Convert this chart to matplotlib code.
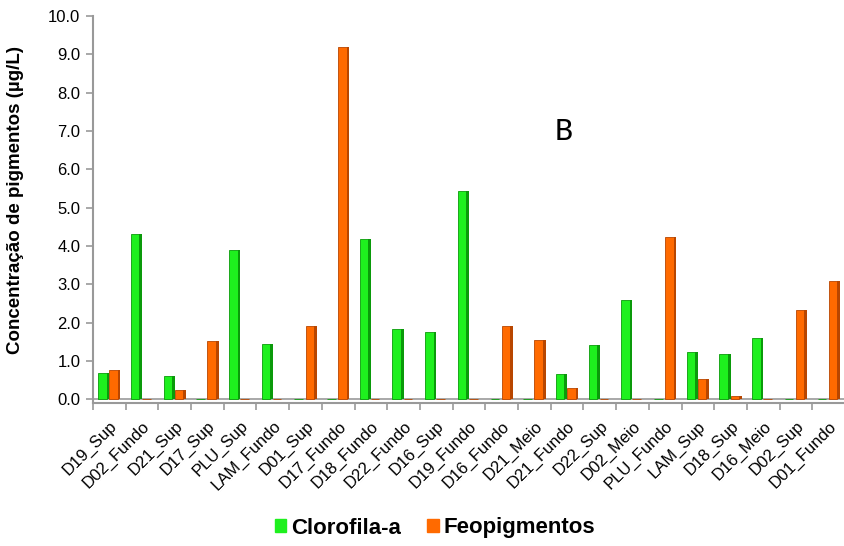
import matplotlib
matplotlib.use('Agg')
import matplotlib.pyplot as plt
import numpy as np

plt.rcParams['font.family'] = ['Liberation Sans', 'DejaVu Sans']

stations = ['D19_Sup', 'D02_Fundo', 'D21_Sup', 'D17_Sup', 'PLU_Sup', 'LAM_Fundo',
            'D01_Sup', 'D17_Fundo', 'D18_Fundo', 'D22_Fundo', 'D16_Sup', 'D19_Fundo',
            'D16_Fundo', 'D21_Meio', 'D21_Fundo', 'D22_Sup', 'D02_Meio', 'PLU_Fundo',
            'LAM_Sup', 'D18_Sup', 'D16_Meio', 'D02_Sup', 'D01_Fundo']
clorofila = [0.68, 4.30, 0.60, 0.00, 3.90, 1.45, 0.00, 0.00, 4.18, 1.83, 1.75, 5.42,
             0.00, 0.00, 0.65, 1.42, 2.60, 0.00, 1.22, 1.17, 1.60, 0.00, 0.00]
feopigmentos = [0.75, 0.00, 0.25, 1.52, 0.00, 0.00, 1.92, 9.20, 0.00, 0.00, 0.00, 0.00,
                1.92, 1.55, 0.28, 0.00, 0.00, 4.22, 0.52, 0.08, 0.00, 2.33, 3.08]

fig = plt.figure(figsize=(8.45, 5.46), dpi=100)
ax = fig.add_axes([93/845, 1 - 403/546, 1 - 93/845, (403 - 16)/546])

x = np.arange(len(stations))
w = 0.34
face = 0.26
series = [(clorofila, -w/2, '#1EF01E', '#0A9A0A', 'Clorofila-a'),
          (feopigmentos, w/2, '#FF6A00', '#B84600', 'Feopigmentos')]
for vals, off, c, dark, lab in series:
    vals = np.array(vals)
    # front face
    ax.bar(x + off - (w - face)/2, vals, face, color=c, edgecolor=dark,
           linewidth=0.6, label=lab, zorder=3)
    # side face (pseudo 3D)
    ax.bar(x + off + face/2, vals, w - face, color=dark, linewidth=0, zorder=3)

ax.axhline(0, color='#999999', lw=1.2, zorder=2)
ax.set_xlim(-0.5, len(stations) - 0.5)
ax.set_ylim(-0.1, 10)
ax.set_yticks(np.arange(0, 10.5, 1.0))
ax.set_yticklabels([f'{v:.1f}' for v in np.arange(0, 10.5, 1.0)], fontsize=12)
ax.set_xticks(x)
ax.set_xticklabels(stations, rotation=45, ha='right', rotation_mode='anchor', fontsize=12)
ax.tick_params(axis='x', length=0, pad=11)
ax.set_xticks(np.arange(-0.5, len(stations), 1.0), minor=True)
ax.tick_params(axis='x', which='minor', length=5, color='#999999', width=1.2)
ax.tick_params(axis='y', length=5, color='#999999', width=1.2, pad=4)

for s in ['top', 'right']:
    ax.spines[s].set_visible(False)
for s in ['left', 'bottom']:
    ax.spines[s].set_color('#999999')
    ax.spines[s].set_linewidth(1.5)

fig.text(16/845, 1 - 200/546, 'Concentração de pigmentos (µg/L)', rotation=90,
         fontsize=13.5, fontweight='bold', ha='center', va='center')
ax.text(13.9, 7.0, 'B', fontsize=24, ha='center', va='center',
        family=['Carlito', 'Liberation Sans', 'DejaVu Sans'])

handles = [plt.Rectangle((0, 0), 1, 1, color=series[0][2]), plt.Rectangle((0, 0), 1, 1, color=series[1][2])]
fig.legend(handles, ['Clorofila-a', 'Feopigmentos'], loc='center', bbox_to_anchor=(435/845, 1 - 528/546),
           ncol=2, frameon=False, prop={'weight': 'bold', 'size': 16},
           handlelength=0.5, handleheight=0.5, handletextpad=0.2, columnspacing=1.2)

fig.savefig('out.png', dpi=100)
